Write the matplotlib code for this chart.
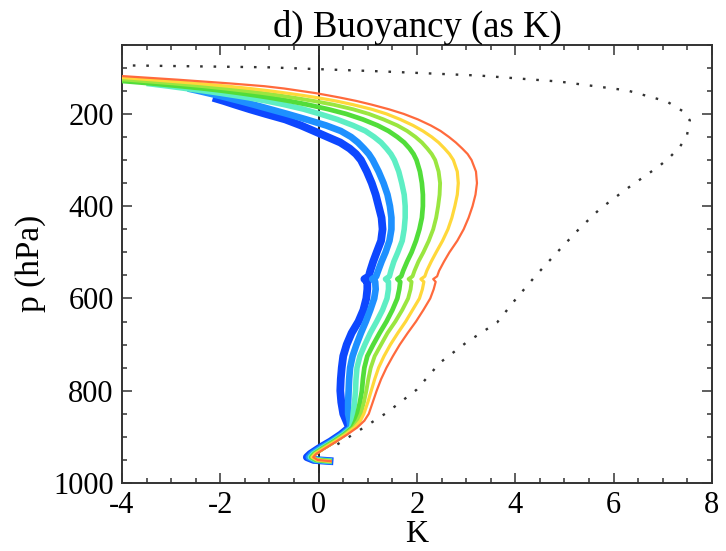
import numpy as np
import matplotlib
matplotlib.use("Agg")
import matplotlib.pyplot as plt
from matplotlib.ticker import MultipleLocator

plt.rcParams['font.family'] = ['Liberation Serif', 'DejaVu Serif']
plt.rcParams['axes.unicode_minus'] = False

nan = np.nan

# pressure levels (hPa) shared by the coloured profiles
p = [110, 118, 126, 134, 140, 145, 150, 155, 160, 165, 172, 180, 190, 200, 212,
     225, 237, 250, 262, 275, 287, 300, 325, 350, 375, 400, 425, 450, 475, 500,
     520, 540, 552, 558, 564, 580, 600, 625, 650, 675, 700, 725, 750, 775, 800,
     825, 850, 865, 880, 895, 910, 925, 937, 944, 950, 953]

# buoyancy (K) of each profile, blue -> orange
b_blue = [nan, nan, nan, nan, nan, nan, nan, nan, nan, -2.15, -1.93, -1.7, -1.4, -1.08, -0.68,
          -0.36, -0.1, 0.18, 0.44, 0.63, 0.76, 0.86, 0.98, 1.08, 1.16, 1.22, 1.28, 1.3, 1.27, 1.18,
          1.11, 1.05, 1.02, 0.93, 0.99, 0.99, 0.97, 0.91, 0.81, 0.67, 0.57, 0.5, 0.47, 0.45, 0.44,
          0.46, 0.5, 0.56, 0.62, 0.45, 0.24, 0.0, -0.17, -0.24, -0.1, 0.3]
b_lblue = [nan, nan, nan, nan, nan, -2.66, -2.45, -2.25, -2.05, -1.86, -1.6, -1.32, -0.98, -0.64, -0.25,
           0.15, 0.45, 0.66, 0.8, 0.92, 1.02, 1.1, 1.22, 1.32, 1.4, 1.45, 1.48, 1.48, 1.44, 1.36,
           1.28, 1.21, 1.17, 1.09, 1.15, 1.16, 1.13, 1.05, 0.96, 0.86, 0.77, 0.69, 0.64, 0.62, 0.61,
           0.6, 0.6, 0.63, 0.65, 0.48, 0.27, 0.03, -0.14, -0.2, -0.08, 0.28]
b_aqua = [nan, nan, nan, -3.5, -3.05, -2.7, -2.35, -2.02, -1.72, -1.43, -1.07, -0.7, -0.3, 0.02, 0.38,
          0.7, 0.95, 1.13, 1.27, 1.38, 1.47, 1.54, 1.63, 1.69, 1.74, 1.76, 1.76, 1.74, 1.7, 1.61,
          1.53, 1.47, 1.44, 1.36, 1.42, 1.42, 1.39, 1.3, 1.18, 1.05, 0.94, 0.84, 0.78, 0.76, 0.75,
          0.73, 0.7, 0.69, 0.67, 0.5, 0.29, 0.06, -0.11, -0.17, -0.06, 0.27]
b_green = [nan, nan, -4.3, -3.4, -2.8, -2.35, -1.95, -1.6, -1.28, -0.98, -0.6, -0.22, 0.2, 0.56, 0.9,
           1.2, 1.42, 1.6, 1.74, 1.85, 1.93, 1.99, 2.06, 2.1, 2.12, 2.12, 2.1, 2.05, 1.98, 1.89,
           1.8, 1.72, 1.68, 1.6, 1.66, 1.64, 1.6, 1.5, 1.38, 1.24, 1.11, 0.99, 0.93, 0.9, 0.88,
           0.84, 0.79, 0.75, 0.69, 0.52, 0.31, 0.08, -0.09, -0.15, -0.05, 0.27]
b_lgreen = [nan, -4.9, -3.9, -2.95, -2.35, -1.9, -1.5, -1.13, -0.8, -0.5, -0.1, 0.3, 0.7, 1.02, 1.32,
            1.6, 1.8, 1.97, 2.1, 2.21, 2.3, 2.37, 2.44, 2.47, 2.46, 2.43, 2.39, 2.33, 2.24, 2.13,
            2.03, 1.95, 1.91, 1.83, 1.89, 1.87, 1.82, 1.7, 1.56, 1.4, 1.27, 1.14, 1.06, 1.01, 0.97,
            0.92, 0.86, 0.8, 0.71, 0.53, 0.32, 0.09, -0.08, -0.14, -0.04, 0.26]
b_yellow = [nan, -4.4, -3.4, -2.45, -1.85, -1.4, -1.0, -0.65, -0.32, -0.02, 0.35, 0.7, 1.08, 1.38, 1.66,
            1.92, 2.12, 2.3, 2.44, 2.56, 2.66, 2.74, 2.82, 2.84, 2.82, 2.77, 2.71, 2.63, 2.52, 2.39,
            2.29, 2.2, 2.16, 2.08, 2.14, 2.11, 2.05, 1.91, 1.77, 1.61, 1.46, 1.33, 1.22, 1.14, 1.07,
            1.0, 0.92, 0.85, 0.73, 0.55, 0.34, 0.11, -0.07, -0.13, -0.03, 0.26]
b_orange = [-5.3, -4.0, -2.85, -1.8, -1.1, -0.7, -0.38, -0.06, 0.2, 0.45, 0.77, 1.08, 1.43, 1.73, 2.02,
            2.28, 2.48, 2.65, 2.79, 2.92, 3.03, 3.11, 3.2, 3.22, 3.19, 3.13, 3.05, 2.95, 2.82, 2.66,
            2.55, 2.45, 2.41, 2.33, 2.38, 2.34, 2.27, 2.13, 1.98, 1.81, 1.65, 1.51, 1.38, 1.27, 1.18,
            1.1, 1.02, 0.93, 0.78, 0.58, 0.36, 0.13, -0.05, -0.11, -0.02, 0.27]

profiles = [b_blue, b_lblue, b_aqua, b_green, b_lgreen, b_yellow, b_orange]
colors = ['#0d47ff', '#1e90ff', '#5eeec4', '#52dd3a', '#9ae640', '#ffd83a', '#ff6a3c']
widths = [5.6, 4.8, 4.0, 3.4, 2.8, 2.3, 1.6]

# dotted reference profile
p_dot = [93, 95, 99, 108, 117, 130, 149, 173, 195, 214, 247, 271, 293, 312, 330, 362,
         406, 449, 500, 550, 600, 652, 695, 739, 798, 848, 885, 917, 928]
b_dot = [-4.6, -3.84, -1.05, 1.31, 3.28, 4.9, 6.27, 7.08, 7.42, 7.55, 7.49, 7.35, 7.15,
         6.94, 6.7, 6.27, 5.72, 5.3, 4.85, 4.42, 4.02, 3.63, 3.01, 2.47, 1.99, 1.38,
         0.84, 0.37, 0.25]

fig = plt.figure(figsize=(7.26, 5.51), dpi=100)
ax = fig.add_axes([0.168, 0.1234, 0.8127, 0.7955])

ax.axvline(0, color='black', lw=1.2, zorder=1)
ax.plot(b_dot, p_dot, color='#333333', lw=1.7, linestyle=(0, (1.1, 4.6)), zorder=2)
for b, c, w in zip(profiles, colors, widths):
    ax.plot(b, p, color=c, lw=w, solid_capstyle='butt', solid_joinstyle='round', zorder=3)

ax.set_xlim(-4, 8)
ax.set_ylim(1000, 50)
ax.xaxis.set_major_locator(MultipleLocator(2))
ax.xaxis.set_minor_locator(MultipleLocator(0.5))
ax.set_yticks([200, 400, 600, 800, 1000])
ax.yaxis.set_minor_locator(MultipleLocator(50))
ax.tick_params(which='both', direction='in', top=True, right=True,
               width=1.1, color='#333333', labelsize=22)
ax.tick_params(which='major', length=7, pad=6)
ax.tick_params(which='minor', length=3.5)
for s in ax.spines.values():
    s.set_linewidth(1.4)
    s.set_color('#333333')

ax.set_title('d) Buoyancy (as K)', fontsize=26.5, pad=5)
ax.set_xlabel('K', fontsize=23, labelpad=0)
ax.set_ylabel('p (hPa)', fontsize=24, labelpad=5)

fig.savefig('out.png', dpi=100)
